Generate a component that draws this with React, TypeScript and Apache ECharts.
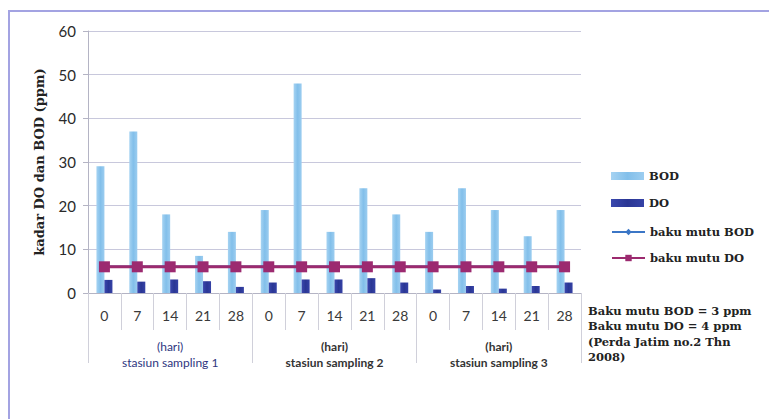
import React, { useEffect, useRef } from "react";
import * as echarts from "echarts";

// Sampling days per station (hari)
const days = ["0", "7", "14", "21", "28"];
const stations = ["stasiun sampling 1", "stasiun sampling 2", "stasiun sampling 3"];
const categories = [...days, ...days, ...days];

// Measured concentrations (ppm)
const bodValues = [29, 37, 18, 8.5, 14, 19, 48, 14, 24, 18, 14, 24, 19, 13, 19];
const doValues = [3, 2.6, 3.1, 2.7, 1.4, 2.4, 3.1, 3.1, 3.4, 2.4, 0.8, 1.6, 1, 1.6, 2.4];

// Quality standard lines
const bakuMutuBod = [6, 6, 6, 6, 6, 6, 6, 6, 6, 6, 6, 6, 6, 6, 6];
const bakuMutuDo = [6, 6, 6, 6, 6, 6, 6, 6, 6, 6, 6, 6, 6, 6, 6];

const yTicks = { min: 0, max: 60, interval: 10 };

const noteLines = [
  "Baku mutu BOD = 3 ppm",
  "Baku mutu DO = 4 ppm",
  "(Perda Jatim no.2 Thn",
  "2008)",
];

const SERIF = '"DejaVu Serif", "Liberation Serif", serif';
const SANS = 'Lato, "Open Sans", sans-serif';

export default function App() {
  const ref = useRef<HTMLDivElement>(null);

  useEffect(() => {
    if (!ref.current) return;
    const chart = echarts.init(ref.current, undefined, { renderer: "svg" });

    const legendText = {
      fontFamily: SERIF,
      fontWeight: "bold" as const,
      fontSize: 11.5,
      color: "#222",
    };
    const legendItem = (name: string, top: number, icon?: string) => ({
      data: [name],
      left: 606,
      top,
      itemWidth: 33,
      itemHeight: 8,
      icon,
      textStyle: legendText,
    });

    chart.setOption({
      animation: false,
      backgroundColor: "#fff",
      grid: { left: 88, right: 188, top: 31, bottom: 126, containLabel: false },
      legend: [
        legendItem("BOD", 165, "rect"),
        legendItem("DO", 192, "rect"),
        legendItem("baku mutu BOD", 221),
        legendItem("baku mutu DO", 247),
      ],
      xAxis: [
        {
          type: "category",
          data: categories,
          boundaryGap: true,
          axisLine: { lineStyle: { color: "#b4b4c4", width: 1 } },
          axisTick: {
            show: true,
            interval: 0,
            length: 37,
            lineStyle: { color: "#d0d0da" },
          },
          axisLabel: {
            interval: 0,
            margin: 15,
            fontFamily: SANS,
            fontSize: 14,
            color: "#3a3a3a",
          },
        },
        {
          type: "category",
          data: stations,
          position: "bottom",
          boundaryGap: true,
          axisLine: { show: false },
          axisTick: {
            show: true,
            interval: 0,
            length: 70,
            lineStyle: { color: "#d0d0da" },
          },
          axisLabel: {
            interval: 0,
            margin: 45,
            formatter: (v: string, i: number) =>
              i === 0 ? `{a|(hari)}\n{a|${v}}` : `{b|(hari)}\n{b|${v}}`,
            rich: {
              a: { fontFamily: SANS, fontSize: 12, color: "#2e3580", lineHeight: 16 },
              b: {
                fontFamily: SANS,
                fontSize: 12,
                fontWeight: "bold",
                color: "#333",
                lineHeight: 16,
              },
            },
          },
        },
      ],
      yAxis: {
        type: "value",
        ...yTicks,
        name: "kadar DO dan BOD (ppm)",
        nameLocation: "middle",
        nameRotate: 90,
        nameGap: 42,
        nameTextStyle: {
          fontFamily: SERIF,
          fontWeight: "bold",
          fontSize: 13,
          color: "#222",
        },
        axisLine: { show: true, lineStyle: { color: "#b4b4c4" } },
        axisTick: { show: true, length: 5, lineStyle: { color: "#b4b4c4" } },
        axisLabel: {
          margin: 12,
          fontFamily: SANS,
          fontSize: 15,
          color: "#2a2a2a",
        },
        splitLine: { lineStyle: { color: "#c8c8dc", width: 1 } },
      },
      series: [
        {
          name: "BOD",
          type: "bar",
          xAxisIndex: 0,
          data: bodValues,
          barWidth: 8,
          barGap: "0%",
          itemStyle: {
            color: new echarts.graphic.LinearGradient(0, 0, 1, 0, [
              { offset: 0, color: "#a6d3f2" },
              { offset: 0.5, color: "#82bfea" },
              { offset: 1, color: "#9ccdf0" },
            ]),
          },
        },
        {
          name: "DO",
          type: "bar",
          xAxisIndex: 0,
          data: doValues,
          barWidth: 8,
          itemStyle: {
            color: new echarts.graphic.LinearGradient(0, 0, 1, 0, [
              { offset: 0, color: "#3a48ae" },
              { offset: 0.5, color: "#2a3694" },
              { offset: 1, color: "#3542a6" },
            ]),
          },
        },
        {
          name: "baku mutu BOD",
          type: "line",
          xAxisIndex: 0,
          data: bakuMutuBod,
          symbol: "diamond",
          symbolSize: 6,
          lineStyle: { color: "#3b76c6", width: 2.5 },
          itemStyle: { color: "#3b76c6" },
          z: 3,
        },
        {
          name: "baku mutu DO",
          type: "line",
          xAxisIndex: 0,
          data: bakuMutuDo,
          symbol: "rect",
          symbolSize: 11,
          lineStyle: { color: "#9c2a6e", width: 3 },
          itemStyle: { color: "#9c2a70" },
          z: 4,
        },
      ],
      graphic: [
        {
          type: "line",
          shape: { x1: 8, y1: 11, x2: 769, y2: 11 },
          style: { stroke: "#a3a3e2", lineWidth: 2 },
        },
        {
          type: "line",
          shape: { x1: 9, y1: 11, x2: 9, y2: 419 },
          style: { stroke: "#a3a3e2", lineWidth: 2 },
        },
        {
          type: "text",
          left: 588,
          top: 303,
          style: {
            text: noteLines.join("\n"),
            font: `bold 11.5px ${SERIF}`,
            lineHeight: 15.5,
            fill: "#222",
          },
        },
      ],
    });

    return () => chart.dispose();
  }, []);

  return (
    <div
      ref={ref}
      style={{ position: "absolute", left: 0, top: 0, width: 769, height: 419 }}
    />
  );
}
